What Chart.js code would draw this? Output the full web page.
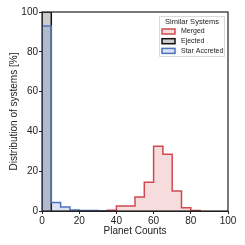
<!DOCTYPE html>
<html>
<head>
<meta charset="utf-8">
<script src="https://cdn.jsdelivr.net/npm/chart.js@4.4.0/dist/chart.umd.min.js"></script>
<style>
html, body { margin: 0; padding: 0; background: #fff; }
#wrap { width: 245px; height: 245px; }
</style>
</head>
<body>
<div id="wrap"><canvas id="grafico"></canvas></div>
<script>
// bin edges (planet counts), width 5
const binStart = [0, 5, 10, 15, 20, 25, 30, 35, 40, 45, 50, 55, 60, 65, 70, 75, 80];
const binWidth = 5;

// distribution of systems [%] per bin
const merged       = [0, 0, 0, 0, 0, 0, 0, 0.4, 2.5, 2.5, 7, 14.5, 32.5, 28.5, 10, 1.6, 0.3];
const ejected      = [100, 0, 0, 0, 0, 0, 0, 0, 0, 0, 0, 0, 0, 0, 0, 0, 0];
const starAccreted = [93, 4.3, 2, 0.5, 0.2, 0.2, 0.15, 0, 0, 0, 0, 0, 0, 0, 0, 0, 0];

const xTicks = [0, 20, 40, 60, 80, 100];
const yTicks = [0, 20, 40, 60, 80, 100];

// convierte un histograma en puntos escalonados (desde el primer al ultimo bin no vacio)
function pasos(valores) {
    let first = valores.findIndex(v => v > 0);
    let last = valores.length - 1;
    while (last > 0 && valores[last] === 0) last--;
    const pts = [{ x: binStart[first], y: 0 }];
    for (let i = first; i <= last; i++) pts.push({ x: binStart[i], y: valores[i] });
    pts.push({ x: binStart[last] + binWidth, y: valores[last] });
    pts.push({ x: binStart[last] + binWidth, y: 0 });
    return pts;
}

const series = [
    { label: 'Merged', data: merged, edge: '#cf4a4f', fill: 'rgba(214,80,86,0.2)', order: 3 },
    { label: 'Ejected', data: ejected, edge: '#111111', fill: 'rgba(205,205,205,1)', order: 2 },
    { label: 'Star Accreted', data: starAccreted, edge: '#4a72c0', fill: 'rgba(74,114,192,0.2)', order: 1 }
];

const fuente = "'Liberation Sans', Arial, sans-serif";

// marco completo del area del grafico
const marco = {
    id: 'marco',
    afterDatasetsDraw(chart) {
        const { ctx, chartArea: a } = chart;
        ctx.save();
        ctx.strokeStyle = '#222';
        ctx.lineWidth = 1.2;
        ctx.strokeRect(a.left, a.top, a.right - a.left, a.bottom - a.top);
        ctx.restore();
    }
};

// leyenda dentro del area, arriba a la derecha
const leyenda = {
    id: 'leyenda',
    afterDraw(chart) {
        const { ctx, chartArea: a } = chart;
        const w = 65, h = 40;
        const x0 = a.right - 4 - w, y0 = a.top + 4;
        ctx.save();
        ctx.fillStyle = 'rgba(255,255,255,0.9)';
        ctx.strokeStyle = '#d0d0d0';
        ctx.lineWidth = 0.8;
        ctx.beginPath();
        ctx.rect(x0 + 0.5, y0 + 0.5, w, h);
        ctx.fill();
        ctx.stroke();
        ctx.fillStyle = '#222';
        ctx.textBaseline = 'middle';
        ctx.textAlign = 'center';
        ctx.font = '7.5px ' + fuente;
        ctx.fillText('Similar Systems', x0 + w / 2 + 0.5, y0 + 6);
        ctx.textAlign = 'left';
        ctx.font = '7px ' + fuente;
        series.forEach((s, i) => {
            const y = y0 + 15.5 + i * 9.7;
            ctx.fillStyle = s.fill;
            ctx.fillRect(x0 + 3, y - 2.5, 13, 5);
            ctx.strokeStyle = s.edge;
            ctx.lineWidth = 1.5;
            ctx.strokeRect(x0 + 3, y - 2.5, 13, 5);
            ctx.fillStyle = '#222';
            ctx.fillText(s.label, x0 + 22, y);
        });
        ctx.restore();
    }
};

new Chart(document.getElementById('grafico'), {
    type: 'line',
    data: {
        datasets: series.map(s => ({
            label: s.label,
            data: pasos(s.data),
            stepped: 'before',
            fill: 'origin',
            backgroundColor: s.fill,
            borderColor: s.edge,
            borderWidth: 1.5,
            pointRadius: 0,
            order: s.order
        }))
    },
    options: {
        animation: false,
        responsive: true,
        maintainAspectRatio: false,
        layout: { padding: { top: 12, right: 17, left: 0, bottom: 0 } },
        plugins: { legend: { display: false }, tooltip: { enabled: false } },
        scales: {
            x: {
                type: 'linear',
                min: 0, max: 100,
                afterBuildTicks: ax => { ax.ticks = xTicks.map(v => ({ value: v })); },
                afterFit: ax => { ax.height = 34; },
                grid: { display: true, drawOnChartArea: false, tickLength: 3, color: '#222' },
                border: { color: '#222' },
                ticks: { color: '#222', padding: 1, maxRotation: 0, font: { family: fuente, size: 10 } },
                title: { display: true, text: 'Planet Counts', color: '#222', padding: { top: 0, bottom: 8 }, font: { family: fuente, size: 10 } }
            },
            y: {
                min: 0, max: 100,
                afterBuildTicks: ax => { ax.ticks = yTicks.map(v => ({ value: v })); },
                afterFit: ax => { ax.width = 42; },
                grid: { display: true, drawOnChartArea: false, tickLength: 3, color: '#222' },
                border: { color: '#222' },
                ticks: { color: '#222', padding: 1, font: { family: fuente, size: 10 } },
                title: { display: true, text: 'Distribution of systems [%]', color: '#222', padding: { top: 8, bottom: 0 }, font: { family: fuente, size: 10 } }
            }
        }
    },
    plugins: [marco, leyenda]
});
</script>
</body>
</html>
